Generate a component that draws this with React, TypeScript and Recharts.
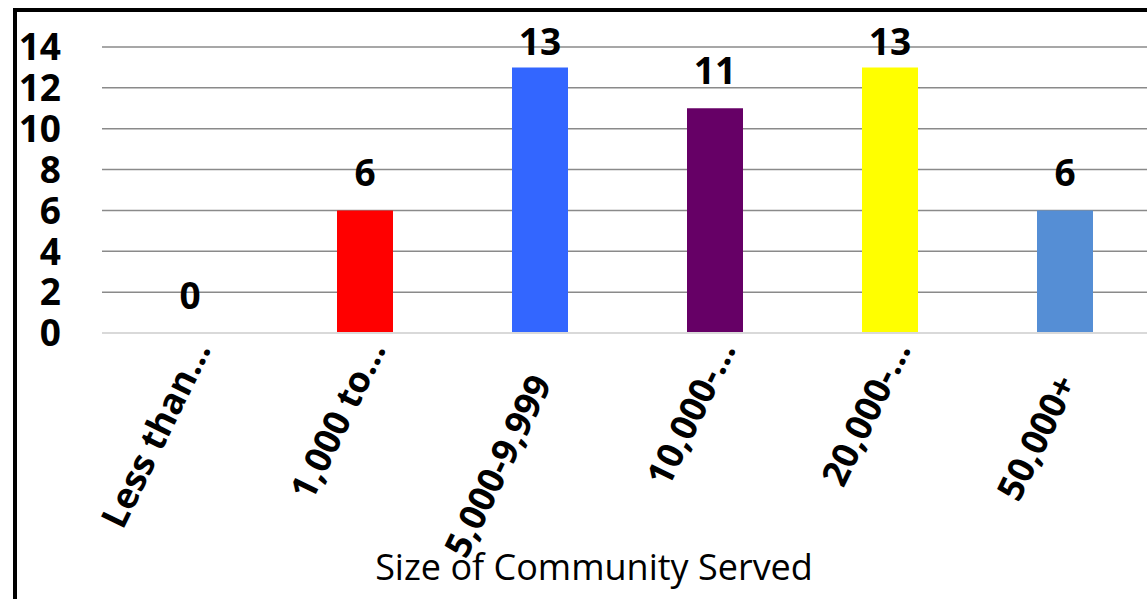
import React from "react";
import { BarChart, Bar, XAxis, YAxis, CartesianGrid, Cell, Label } from "recharts";

const categories = ["Less than…", "1,000 to…", "5,000-9,999", "10,000-…", "20,000-…", "50,000+"];
const counts = [0, 6, 13, 11, 13, 6];
const barColors = ["#d9d9d9", "#FF0000", "#3366FF", "#660066", "#FFFF00", "#558ED5"];
const yTicks = [0, 2, 4, 6, 8, 10, 12, 14];
const gridValues = [2, 4, 6, 8, 10, 12, 14];
const axisTitle = "Size of Community Served";

const data = categories.map((c, i) => ({ name: c, value: counts[i] }));

const FONT = "'Open Sans', 'DejaVu Sans', sans-serif";

const YTick = (props: any) => {
  const { x, y, payload } = props;
  return (
    <text x={x} y={y} dy="0.36em" textAnchor="end" fontFamily={FONT} fontWeight={700} fontSize={37} fill="#000">
      {payload.value}
    </text>
  );
};

const XTick = (props: any) => {
  const { x, y, payload } = props;
  const label: string = String(payload.value);
  const truncated = label.endsWith("…");
  const ox = truncated ? 22 : 13;
  const oy = truncated ? 16 : 50;
  return (
    <g transform={`translate(${x + ox},${y + oy})`}>
      <text transform="rotate(-64)" textAnchor="end" fontFamily={FONT} fontWeight={700} fontSize={36} fill="#000">
        {label}
      </text>
    </g>
  );
};

const ValueLabel = (props: any) => {
  const { x, y, width, height, value } = props;
  const top = Math.min(y, y + (height || 0));
  const base = Math.max(top - 24, 55);
  return (
    <text x={x + width / 2} y={base} textAnchor="middle" fontFamily={FONT} fontWeight={700} fontSize={37} fill="#000">
      {value}
    </text>
  );
};

const TitleLabel = (props: any) => {
  const vb = props.viewBox || {};
  const cx = (vb.x ?? 0) + (vb.width ?? 0) / 2 - 33;
  return (
    <text x={cx} y={580} textAnchor="middle" fontFamily={FONT} fontWeight={400} fontSize={36} fill="#000">
      {axisTitle}
    </text>
  );
};

export default function App() {
  return (
    <div style={{ position: "fixed", left: 0, top: 0, width: 1147, height: 599, overflow: "hidden", background: "#fff" }}>
      <div style={{ position: "absolute", left: 0, top: 0 }}>
        <BarChart width={1200} height={599} data={data} margin={{ top: 47, right: 48, bottom: 0, left: 0 }} barSize={56}>
          <CartesianGrid horizontal={true} vertical={false} stroke="#8a8a8a" strokeWidth={1.5} horizontalValues={gridValues} />
          <XAxis
            dataKey="name"
            height={266}
            tickLine={false}
            tickSize={0}
            tickMargin={0}
            axisLine={{ stroke: "#d9d9d9", strokeWidth: 2 }}
            tick={<XTick />}
            interval={0}
          >
            <Label content={<TitleLabel />} />
          </XAxis>
          <YAxis
            width={102}
            domain={[0, 14]}
            ticks={yTicks}
            interval={0}
            axisLine={false}
            tickLine={false}
            tickSize={0}
            tickMargin={41}
            tick={<YTick />}
          />
          <Bar dataKey="value" isAnimationActive={false} minPointSize={0.5} label={<ValueLabel />}>
            {data.map((d, i) => (
              <Cell key={d.name} fill={barColors[i]} />
            ))}
          </Bar>
        </BarChart>
      </div>
      <div
        style={{
          position: "absolute",
          left: 13,
          top: 8,
          width: 1300,
          height: 700,
          borderTop: "4px solid #000",
          borderLeft: "4px solid #000",
          pointerEvents: "none",
        }}
      />
    </div>
  );
}
